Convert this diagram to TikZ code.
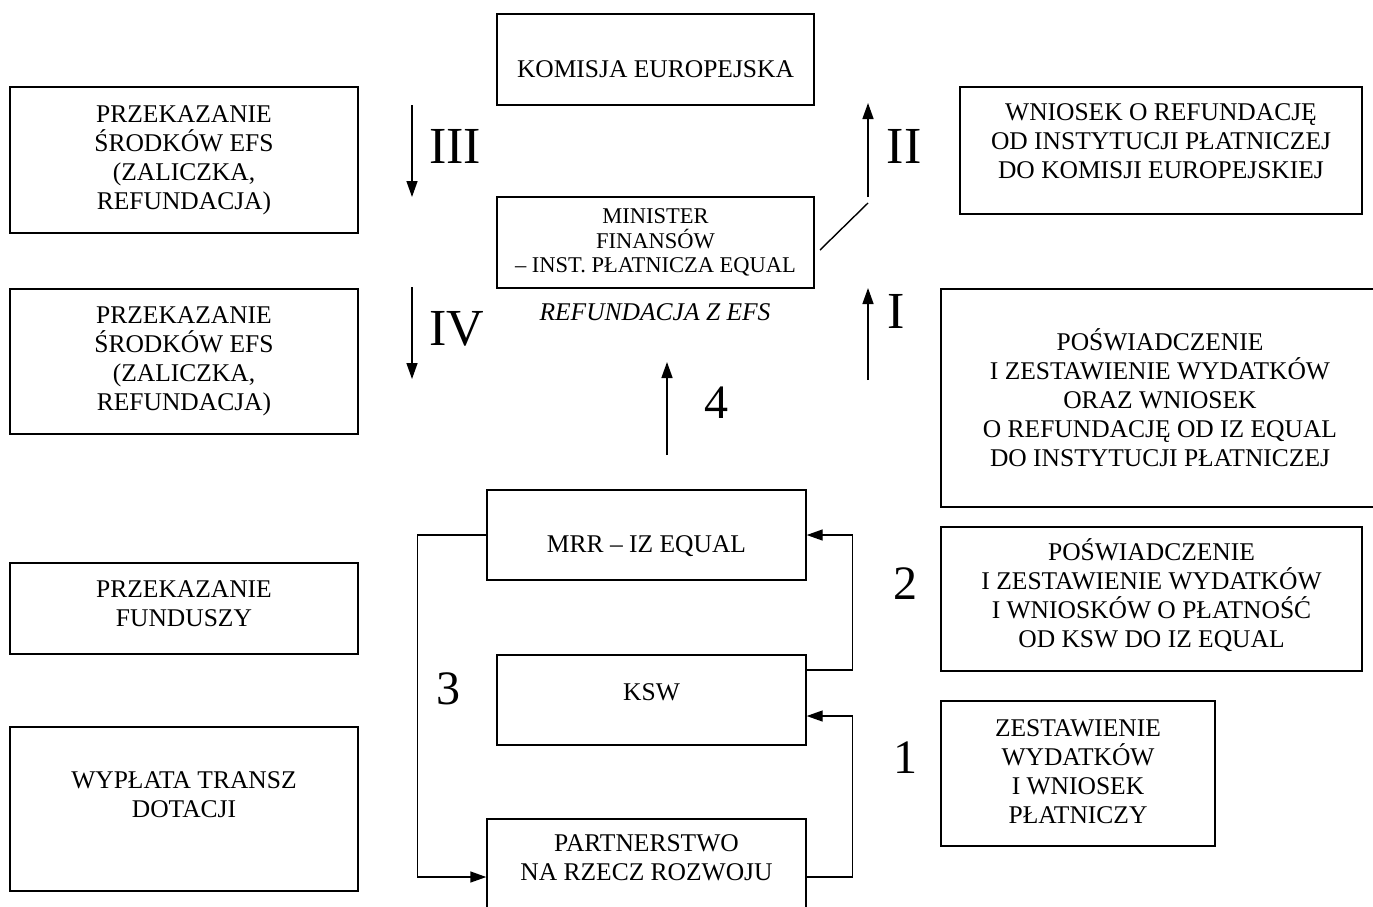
\documentclass[tikz,border=0pt]{standalone}
\usepackage{fontspec}
\setmainfont{Liberation Serif}
\usetikzlibrary{arrows.meta}
\tikzset{
  caja/.style={draw, line width=1.4pt, align=center, inner sep=0pt,
    font=\fontsize{25.5}{29}\selectfont},
  texto/.style={align=center, inner sep=0pt, font=\fontsize{25.5}{29}\selectfont},
  flecha/.style={line width=1.4pt, -{Triangle[length=16pt,width=11pt]}},
  numero/.style={font=\fontsize{52}{52}\selectfont},
  cifra/.style={font=\fontsize{48}{48}\selectfont}
}
\begin{document}
\begin{tikzpicture}[x=1pt, y=-1pt]
    \useasboundingbox (0,0) rectangle (1373,906);

    % Cajas centrales
    \node[caja, minimum width=317pt, minimum height=91pt] (komisja) at (655.5,59.5) {};
    \node[texto] at ([yshift=-10pt]komisja.center) {KOMISJA EUROPEJSKA};
    \node[caja, minimum width=317pt, minimum height=91pt,
        font=\fontsize{22.5}{24.5}\selectfont] (minister) at (655.5,242.5)
        {MINISTER\\FINANSÓW\\– INST. PŁATNICZA EQUAL};
    \node[texto, font=\fontsize{25.5}{29}\selectfont\itshape] (refund) at (655,312) {REFUNDACJA Z EFS};
    \node[caja, minimum width=319pt, minimum height=90pt] (mrr) at (646.5,535) {};
    \node[texto] at ([yshift=-11pt]mrr.center) {MRR – IZ EQUAL};
    \node[caja, minimum width=309pt, minimum height=90pt] (ksw) at (651.5,700) {};
    \node[texto] at ([yshift=8pt]ksw.center) {KSW};
    \node[caja, minimum width=319pt, minimum height=106pt] (partner) at (646.5,872)
        {PARTNERSTWO\\NA RZECZ ROZWOJU\\ \mbox{}};

    % Cajas izquierda
    \node[caja, minimum width=348pt, minimum height=146pt] (przek1) at (184,160)
        {PRZEKAZANIE\\ŚRODKÓW EFS\\(ZALICZKA,\\REFUNDACJA)};
    \node[caja, minimum width=348pt, minimum height=145pt] (przek2) at (184,361.5)
        {PRZEKAZANIE\\ŚRODKÓW EFS\\(ZALICZKA,\\REFUNDACJA)};
    \node[caja, minimum width=348pt, minimum height=91pt] (fundusze) at (184,608.5) {};
    \node[texto] at ([yshift=5pt]fundusze.center) {PRZEKAZANIE\\FUNDUSZY};
    \node[caja, minimum width=348pt, minimum height=164pt] (wyplata) at (184,809) {};
    \node[texto] at ([yshift=14pt]wyplata.center) {WYPŁATA TRANSZ\\DOTACJI};

    % Cajas derecha
    \node[caja, minimum width=402pt, minimum height=127pt] (wniosek) at (1161,150.5) {};
    \node[texto] at ([yshift=9pt]wniosek.center)
        {WNIOSEK O REFUNDACJĘ\\OD INSTYTUCJI PŁATNICZEJ\\DO KOMISJI EUROPEJSKIEJ};
    \node[caja, minimum width=438pt, minimum height=218pt] (posw1) at (1160,398)
        {POŚWIADCZENIE\\I ZESTAWIENIE WYDATKÓW\\ORAZ WNIOSEK\\O REFUNDACJĘ OD IZ EQUAL\\DO INSTYTUCJI PŁATNICZEJ};
    \node[caja, minimum width=421pt, minimum height=144pt] (posw2) at (1151.5,599) {};
    \node[texto] at ([yshift=4pt]posw2.center)
        {POŚWIADCZENIE\\I ZESTAWIENIE WYDATKÓW\\I WNIOSKÓW O PŁATNOŚĆ\\OD KSW DO IZ EQUAL};
    \node[caja, minimum width=274pt, minimum height=145pt] (zest) at (1078,773.5) {};
    \node[texto] at ([yshift=2pt]zest.center) {ZESTAWIENIE\\WYDATKÓW\\I WNIOSEK\\PŁATNICZY};

    % Flechas I - IV
    \draw[flecha] (412,105) -- (412,197);
    \node[numero] (n3r) at (455,146) {III};
    \draw[flecha] (412,287) -- (412,379);
    \node[numero] (n4r) at (457,329) {IV};
    \draw[flecha] (868,197) -- (868,103);
    \draw[line width=1.4pt] (820,250) -- (868,203);
    \node[numero] (n2r) at (904,146) {II};
    \draw[flecha] (868,380) -- (868,288);
    \node[numero] (n1r) at (896,311) {I};
    \draw[flecha] (667,455) -- (667,362);
    \node[cifra] (n4) at (716,403) {4};

    % Flujo entre MRR, KSW y partnerstwo
    \draw[flecha] (mrr.west) -- ++(-69,0) |- ([yshift=-5pt]partner.west);
    \node[cifra] (n3) at (448,689) {3};
    \draw[flecha] ([yshift=30pt]ksw.east) -- ++(46,0) |- (mrr.east);
    \node[cifra] (n2) at (905,584) {2};
    \draw[flecha] ([yshift=-5pt]partner.east) -- ++(46,0) |- ([yshift=-16pt]ksw.east);
    \node[cifra] (n1) at (905,758) {1};
\end{tikzpicture}
\end{document}
